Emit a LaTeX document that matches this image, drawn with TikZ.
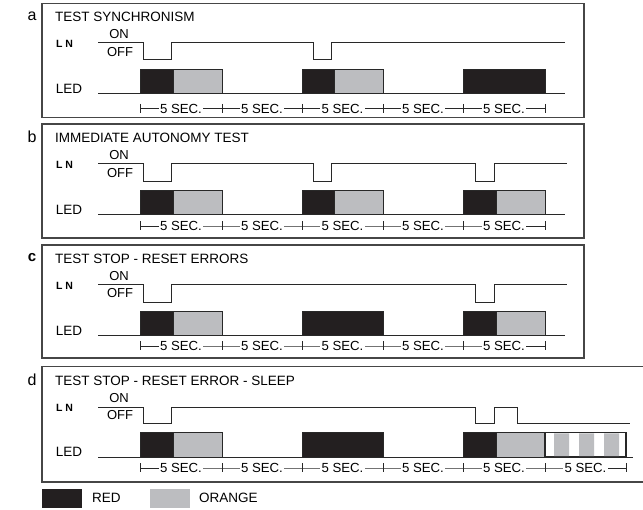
\documentclass[tikz,border=0pt]{standalone}
\usepackage{fontspec}
\setmainfont{Liberation Sans}
\usetikzlibrary{positioning,calc}
\definecolor{red_color}{RGB}{35,31,32}
\definecolor{orange_color}{RGB}{188,189,192}
\definecolor{frame_color}{RGB}{70,70,70}
\definecolor{line_color}{RGB}{40,40,40}
\tikzset{
  frame/.style={draw=frame_color, line width=1.3pt},
  signal/.style={draw=line_color, line width=0.8pt},
  red_led/.style={fill=red_color, draw=line_color, line width=0.8pt},
  orange_led/.style={fill=orange_color, draw=line_color, line width=0.8pt},
  sleep_led/.style={fill=white, draw=line_color, line width=1.2pt},
  timeaxis/.style={draw=line_color, line width=0.8pt},
  seclabel/.style={fill=white, inner sep=1.5pt, font=\fontsize{13.2}{15}\selectfont},
  panel_letter/.style={font=\fontsize{16}{18}\selectfont},
  panel_title/.style={anchor=west, inner sep=0pt, font=\fontsize{13.5}{15}\selectfont},
  ln_label/.style={inner sep=0pt, font=\bfseries\fontsize{10.5}{12}\selectfont},
  level_label/.style={inner sep=0pt, font=\fontsize{13}{15}\selectfont},
  led_label/.style={inner sep=0pt, font=\fontsize{13.5}{15}\selectfont},
  legend_text/.style={anchor=west, inner sep=0pt, font=\fontsize{13.5}{15}\selectfont}
}

\begin{document}
\begin{tikzpicture}[x=1pt, y=-1pt]
\useasboundingbox (0,0) rectangle (643,510);

% panel a
\draw[frame] (42,3.5) rectangle (584,117.5);
\node[panel_letter] (letterA) at (32,16) {a};
\node[panel_title] (titleA) at (55,17) {TEST SYNCHRONISM};
\node[ln_label] (lnA) at (64.5,44) {L N};
\node[level_label] (onA) at (119,34) {ON};
\node[level_label] (offA) at (120,52.5) {OFF};
\node[led_label] (ledA) at (69,89) {LED};
\draw[signal] (98,42) -- (143,42) -- (143,59) -- (171,59) -- (171,42) -- (313,42) -- (313,59) -- (331,59) -- (331,42) -- (565,42);
\draw[signal] (98,93.5) -- (565,93.5);
\draw[red_led] (140,69.5) rectangle (173,93.5);
\draw[orange_led] (173,69.5) rectangle (222,93.5);
\draw[red_led] (302,69.5) rectangle (334,93.5);
\draw[orange_led] (334,69.5) rectangle (383,93.5);
\draw[red_led] (463,69.5) rectangle (545,93.5);
\draw[timeaxis] (140,108.5) -- node[seclabel] (secA1) {5 SEC.} (222,108.5) -- node[seclabel] (secA2) {5 SEC.} (302,108.5) -- node[seclabel] (secA3) {5 SEC.} (383,108.5) -- node[seclabel] (secA4) {5 SEC.} (463,108.5) -- node[seclabel] (secA5) {5 SEC.} (545,108.5);
\draw[timeaxis] (140,104) -- (140,113) (222,104) -- (222,113) (302,104) -- (302,113) (383,104) -- (383,113) (463,104) -- (463,113) (545,104) -- (545,113);

% panel b
\draw[frame] (42,124) rectangle (584,238);
\node[panel_letter] (letterB) at (32,137) {b};
\node[panel_title] (titleB) at (55,138) {IMMEDIATE AUTONOMY TEST};
\node[ln_label] (lnB) at (64.5,165) {L N};
\node[level_label] (onB) at (119,155) {ON};
\node[level_label] (offB) at (120,173) {OFF};
\node[led_label] (ledB) at (69,210) {LED};
\draw[signal] (98,163) -- (143,163) -- (143,181) -- (171,181) -- (171,163) -- (313,163) -- (313,181) -- (331,181) -- (331,163) -- (475,163) -- (475,181) -- (494,181) -- (494,163) -- (567,163);
\draw[signal] (98,214) -- (565,214);
\draw[red_led] (140,190) rectangle (173,214);
\draw[orange_led] (173,190) rectangle (222,214);
\draw[red_led] (302,190) rectangle (334,214);
\draw[orange_led] (334,190) rectangle (383,214);
\draw[red_led] (463,190) rectangle (496,214);
\draw[orange_led] (496,190) rectangle (545,214);
\draw[timeaxis] (140,226) -- node[seclabel] (secB1) {5 SEC.} (222,226) -- node[seclabel] (secB2) {5 SEC.} (302,226) -- node[seclabel] (secB3) {5 SEC.} (383,226) -- node[seclabel] (secB4) {5 SEC.} (463,226) -- node[seclabel] (secB5) {5 SEC.} (545,226);
\draw[timeaxis] (140,221.5) -- (140,230.5) (222,221.5) -- (222,230.5) (302,221.5) -- (302,230.5) (383,221.5) -- (383,230.5) (463,221.5) -- (463,230.5) (545,221.5) -- (545,230.5);

% panel c
\draw[frame] (42,245) rectangle (584,358);
\node[panel_letter, font=\bfseries\fontsize{15}{17}\selectfont] (letterC) at (32,258) {c};
\node[panel_title] (titleC) at (55,259) {TEST STOP - RESET ERRORS};
\node[ln_label] (lnC) at (64.5,286) {L N};
\node[level_label] (onC) at (119,276) {ON};
\node[level_label] (offC) at (120,293.5) {OFF};
\node[led_label] (ledC) at (69,331) {LED};
\draw[signal] (98,284) -- (143,284) -- (143,302) -- (171,302) -- (171,284) -- (475,284) -- (475,302) -- (494,302) -- (494,284) -- (567,284);
\draw[signal] (98,335) -- (565,335);
\draw[red_led] (140,311) rectangle (173,335);
\draw[orange_led] (173,311) rectangle (222,335);
\draw[red_led] (302,311) rectangle (383,335);
\draw[red_led] (463,311) rectangle (496,335);
\draw[orange_led] (496,311) rectangle (545,335);
\draw[timeaxis] (140,346) -- node[seclabel] (secC1) {5 SEC.} (222,346) -- node[seclabel] (secC2) {5 SEC.} (302,346) -- node[seclabel] (secC3) {5 SEC.} (383,346) -- node[seclabel] (secC4) {5 SEC.} (463,346) -- node[seclabel] (secC5) {5 SEC.} (545,346);
\draw[timeaxis] (140,341.5) -- (140,350.5) (222,341.5) -- (222,350.5) (302,341.5) -- (302,350.5) (383,341.5) -- (383,350.5) (463,341.5) -- (463,350.5) (545,341.5) -- (545,350.5);

% panel d (right side runs off the page)
\draw[frame] (645,366.5) -- (42,366.5) -- (42,482) -- (645,482);
\node[panel_letter] (letterD) at (32,380) {d};
\node[panel_title] (titleD) at (55,381) {TEST STOP - RESET ERROR - SLEEP};
\node[ln_label] (lnD) at (64.5,408) {L N};
\node[level_label] (onD) at (119,398.5) {ON};
\node[level_label] (offD) at (120,415.5) {OFF};
\node[led_label] (ledD) at (69,452) {LED};
\draw[signal] (98,407) -- (143,407) -- (143,423.5) -- (171,423.5) -- (171,407) -- (475,407) -- (475,423.5) -- (494,423.5) -- (494,407) -- (517,407) -- (517,423.5) -- (630,423.5);
\draw[signal] (98,457) -- (633,457);
\draw[red_led] (140,432.5) rectangle (173,457);
\draw[orange_led] (173,432.5) rectangle (222,457);
\draw[red_led] (302,432.5) rectangle (383,457);
\draw[red_led] (463,432.5) rectangle (496,457);
\draw[orange_led] (496,432.5) rectangle (545,457);
\draw[sleep_led] (545,432.5) rectangle (626,457);
\fill[orange_color] (554,433.3) rectangle (569,456.2) (579,433.3) rectangle (594,456.2) (604,433.3) rectangle (619,456.2);
\draw[timeaxis] (140,468) -- node[seclabel] (secD1) {5 SEC.} (222,468) -- node[seclabel] (secD2) {5 SEC.} (302,468) -- node[seclabel] (secD3) {5 SEC.} (383,468) -- node[seclabel] (secD4) {5 SEC.} (463,468) -- node[seclabel] (secD5) {5 SEC.} (545,468) -- node[seclabel] (secD6) {5 SEC.} (626,468);
\draw[timeaxis] (140,463.5) -- (140,472.5) (222,463.5) -- (222,472.5) (302,463.5) -- (302,472.5) (383,463.5) -- (383,472.5) (463,463.5) -- (463,472.5) (545,463.5) -- (545,472.5) (626,463.5) -- (626,472.5);

% legend
\fill[red_color] (42,489) rectangle (82,508);
\node[legend_text] (redText) at (92,498) {RED};
\fill[orange_color] (150,489) rectangle (190,508);
\node[legend_text] (orangeText) at (199,498) {ORANGE};

\end{tikzpicture}
\end{document}
